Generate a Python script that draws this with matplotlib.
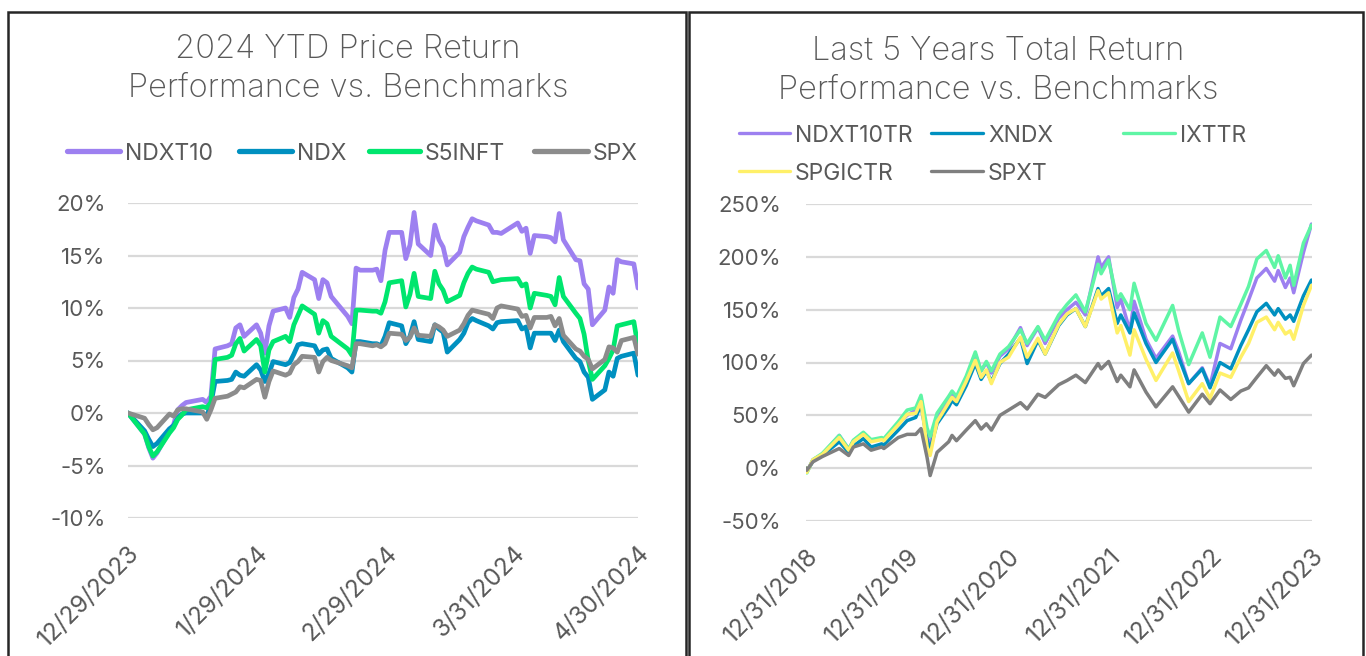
import matplotlib
matplotlib.use('Agg')
import matplotlib.pyplot as plt
import pandas as pd
from matplotlib.patches import Rectangle
from matplotlib.lines import Line2D
from matplotlib.ticker import FuncFormatter

plt.rcParams['font.family'] = ['Inter', 'DejaVu Sans']

# ---------------- Left chart data (2024 YTD price return, %) ----------------
left_names = ['NDXT10', 'NDX', 'S5INFT', 'SPX']
left_colors = ['#9d80f0', '#0090c0', '#00e66e', '#8c8c8c']
left_holidays = ['2024-01-01', '2024-01-15', '2024-02-19', '2024-03-29']
ndxt10 = [0.0,
          -2.0, -3.3, -4.3, -3.8, -1.7, -1.1, 0.3, 0.7, 1.0, 1.3, 1.0, 1.6, 6.1, 6.4, 6.6, 8.1, 8.4, 7.3, 8.4, 7.6, 5.7,
          8.3, 9.7, 10.0, 9.1, 11.0, 11.8, 13.4, 12.7, 10.9, 12.7, 12.4, 11.1, 9.2, 8.5, 13.8, 13.6, 13.6, 13.7, 12.6, 15.5,
          17.2, 17.2, 14.7, 16.0, 19.1, 16.1, 15.0, 17.9, 16.5, 15.8, 14.1, 15.3, 16.8, 17.7, 18.5, 18.3, 17.9, 17.2, 17.2, 17.1,
          18.1, 17.3, 17.6, 15.2, 16.9, 16.8, 16.7, 16.3, 19.0, 16.5, 14.6, 14.5, 12.3, 11.8, 8.4, 9.8, 12.0, 11.4, 14.6, 14.4, 14.2, 11.9]
ndx = [0.0,
       -1.7, -2.5, -3.2, -2.9, -1.5, -1.2, -0.5, -0.1, 0.0, 0.0, -0.3, 0.9, 3.0, 3.1, 3.2, 3.9, 3.6, 3.5, 4.6, 4.1, 3.0,
       3.8, 4.9, 4.6, 4.8, 5.6, 6.5, 6.6, 6.4, 5.6, 6.0, 6.1, 5.2, 4.3, 3.9, 6.8, 6.8, 6.6, 6.6, 6.4, 7.3,
       8.6, 8.3, 6.6, 7.3, 8.7, 7.0, 6.8, 8.4, 8.0, 7.7, 5.8, 7.0, 7.6, 8.6, 9.0, 8.8, 8.3, 8.0, 8.6, 8.7,
       8.8, 8.0, 8.2, 6.2, 7.6, 7.6, 7.6, 6.9, 7.9, 6.8, 5.2, 4.9, 3.9, 3.4, 1.3, 2.2, 3.9, 3.5, 5.2, 5.4, 5.7, 3.6]
s5inft = [0.0,
          -2.0, -3.2, -4.1, -3.7, -1.9, -1.4, -0.6, -0.2, 0.3, 0.6, 0.5, 1.0, 5.1, 5.3, 5.5, 6.6, 7.1, 5.9, 7.0, 6.4, 3.9,
          6.0, 6.8, 7.3, 6.8, 8.4, 9.3, 10.2, 9.4, 7.6, 8.8, 8.5, 7.3, 6.1, 5.5, 9.8, 9.8, 9.7, 9.7, 9.5, 10.6,
          12.4, 12.6, 10.1, 11.3, 13.3, 11.1, 10.9, 13.5, 12.3, 11.7, 10.6, 11.2, 12.4, 13.3, 13.9, 13.7, 13.4, 12.5, 12.6, 12.7,
          12.8, 12.1, 12.3, 10.0, 11.4, 11.2, 11.1, 10.3, 12.9, 11.1, 9.5, 9.0, 7.5, 5.0, 3.2, 4.5, 5.2, 6.0, 8.3, 8.4, 8.7, 6.3]
spx = [0.0,
       -0.5, -1.1, -1.6, -1.4, -0.1, -0.3, 0.3, 0.4, 0.4, 0.1, -0.6, 0.3, 1.4, 1.6, 1.8, 2.0, 2.5, 2.4, 3.2, 3.1, 1.5,
       3.0, 4.0, 3.6, 3.8, 4.6, 4.9, 5.4, 5.3, 3.9, 4.9, 5.3, 5.0, 4.5, 4.3, 6.6, 6.6, 6.4, 6.5, 6.3, 6.6,
       7.6, 7.5, 6.9, 7.2, 8.1, 7.4, 7.3, 8.4, 8.2, 7.9, 7.3, 7.9, 8.5, 9.3, 9.8, 9.7, 9.4, 9.0, 10.0, 10.2,
       9.9, 9.2, 9.3, 8.1, 9.1, 9.1, 9.2, 8.3, 9.0, 7.4, 6.1, 5.9, 5.4, 5.1, 4.2, 5.1, 6.3, 6.2, 5.8, 6.9, 7.2, 5.6]
left_ticks = ['2023-12-29', '2024-01-29', '2024-02-29', '2024-03-31', '2024-04-30']
left_ticklabels = ['12/29/2023', '1/29/2024', '2/29/2024', '3/31/2024', '4/30/2024']
left_yticks = [-10, -5, 0, 5, 10, 15, 20]

# ---------------- Right chart data (5y total return, %) ----------------
right_names = ['NDXT10TR', 'XNDX', 'IXTTR', 'SPGICTR', 'SPXT']
right_colors = ['#9d80f0', '#0090c0', '#5ff5a5', '#fff068', '#7f7f7f']
right_dates = ['2018-12-31', '2019-01-03', '2019-01-25', '2019-02-28', '2019-04-30', '2019-06-03',
               '2019-06-20', '2019-07-26', '2019-08-23', '2019-09-30', '2019-10-08', '2019-11-29',
               '2019-12-31', '2020-01-31',
               '2020-02-19', '2020-03-12', '2020-03-23', '2020-04-17', '2020-05-29', '2020-06-10',
               '2020-06-26', '2020-07-31', '2020-09-02', '2020-09-23', '2020-10-12', '2020-10-30',
               '2020-11-30', '2020-12-31', '2021-02-12', '2021-03-08', '2021-04-16', '2021-05-12',
               '2021-06-30', '2021-07-30', '2021-08-31', '2021-10-04', '2021-11-19', '2021-11-30',
               '2021-12-27', '2022-01-27', '2022-02-09', '2022-03-14', '2022-03-29', '2022-05-11',
               '2022-06-16', '2022-08-15', '2022-09-06', '2022-10-12', '2022-11-30', '2022-12-28',
               '2023-02-02', '2023-03-13', '2023-04-18', '2023-05-16', '2023-06-15', '2023-07-19',
               '2023-08-18', '2023-08-31', '2023-09-26', '2023-10-13', '2023-10-26', '2023-11-30',
               '2023-12-29']
spxt = [0, -2, 6, 11, 18.6, 12, 20, 23, 17, 20, 18.6, 29, 32, 32, 37.5, 10, -7, 15, 25, 31, 26, 36, 45, 37, 42, 36, 50,
        55, 62, 56, 70, 67, 79, 83, 88, 81, 99, 94, 101, 82, 88, 77, 93, 72, 58, 77, 68, 53, 70, 61, 74, 65,
        73, 76, 86, 97, 88, 93, 85, 86, 78, 99, 107]
ixttr = [0, -4.5, 8, 14, 31, 18, 26.5, 34, 27, 29, 28, 44, 55, 57, 69, 38, 30, 52, 68, 73, 68, 87, 110, 92, 101, 92, 108,
         115, 131, 118, 134, 121, 145, 155, 164, 148, 193, 184, 197, 159, 165, 150, 175, 137, 121, 154, 130, 98,
         128, 105, 143, 134, 155, 172, 198, 206, 190, 201, 180, 192, 173, 213, 230]
ndxt10tr = [0, -3.5, 8, 13, 31, 18, 26, 33, 26, 28, 27, 42, 50, 55, 66, 30, 22, 47, 64, 70, 66, 85, 108, 92, 100, 90, 106,
            113, 133, 116, 133, 118, 142, 150, 157, 145, 200, 190, 200, 152, 160, 130, 158, 122, 104, 125, 110, 80,
            95, 78, 118, 113, 140, 159, 180, 189, 177, 187, 171, 180, 166, 204, 231]
xndx = [0, -3.5, 7, 12, 25, 15, 21, 28, 20, 23, 22, 36, 45, 48, 60, 26, 18, 42, 58, 64, 60, 78, 99, 84, 92, 82, 99,
        108, 123, 99, 121, 108, 135, 145, 151, 134, 170, 163, 170, 137, 145, 128, 147, 118, 100, 122, 105, 80,
        94, 76, 100, 94, 116, 131, 148, 156, 145, 151, 141, 145, 139, 163, 178]
spgictr = [0, -4, 8, 13, 29, 17, 25, 32, 25, 27, 26, 41, 51, 52, 63, 20, 12, 44, 62, 67, 63, 82, 102, 86, 93, 80, 100,
           105, 124, 105, 123, 108, 136, 146, 151, 134, 168, 160, 166, 128, 135, 107, 131, 103, 83, 109, 92, 63,
           80, 66, 90, 86, 105, 118, 138, 143, 131, 138, 127, 130, 122, 154, 173]
right_ticks = ['2018-12-31', '2019-12-31', '2020-12-31', '2021-12-31', '2022-12-31', '2023-12-31']
right_ticklabels = ['12/31/2018', '12/31/2019', '12/31/2020', '12/31/2021', '12/31/2022', '12/31/2023']
right_yticks = [-50, 0, 50, 100, 150, 200, 250]

TXT = '#595959'
W, H = 1366, 656


def fx(px):
    return px / W


def fy(py):
    return 1 - py / H


fig = plt.figure(figsize=(13.66, 6.56), dpi=100)

# panel borders
for x0, x1 in [(8, 686), (689, 1363)]:
    fig.add_artist(Rectangle((fx(x0), -0.05), fx(x1) - fx(x0), fy(12) + 0.05,
                             transform=fig.transFigure, fill=False, lw=1.8, ec='#262626'))

# titles
fig.text(fx(348), fy(69), '2024 YTD Price Return\nPerformance vs. Benchmarks', ha='center', va='center',
         fontsize=23.5, color=TXT, linespacing=1.35, fontweight='light')
fig.text(fx(998), fy(71), 'Last 5 Years Total Return\nPerformance vs. Benchmarks', ha='center', va='center',
         fontsize=23.5, color=TXT, linespacing=1.35, fontweight='light')


def pct(v, _):
    return f'{v:.0f}%'


def style_axes(ax, yticks, ylabel_pad):
    ax.set_yticks(yticks)
    ax.set_ylim(yticks[0], yticks[-1])
    ax.yaxis.set_major_formatter(FuncFormatter(pct))
    ax.grid(axis='y', color='#d9d9d9', lw=1.6)
    ax.grid(axis='x', visible=False)
    ax.set_axisbelow(True)
    for s in ax.spines.values():
        s.set_visible(False)
    ax.tick_params(axis='both', length=0, labelcolor=TXT)
    ax.tick_params(axis='y', pad=ylabel_pad, labelsize=16)
    ax.tick_params(axis='x', pad=17, labelsize=17.5)


# ---------------- Left axes ----------------
ax1 = fig.add_axes([fx(128), fy(518), fx(638) - fx(128), fy(203) - fy(518)])
ldates = pd.bdate_range('2023-12-29', '2024-04-30')
ldates = ldates[~ldates.isin(pd.to_datetime(left_holidays))]
for vals, c in zip([ndxt10, ndx, s5inft, spx], left_colors):
    ax1.plot(ldates, vals, color=c, lw=3.4, solid_joinstyle='round', solid_capstyle='round')
ax1.set_xlim(pd.Timestamp(left_ticks[0]), pd.Timestamp(left_ticks[-1]))
ax1.set_xticks(pd.to_datetime(left_ticks))
ax1.set_xticklabels(left_ticklabels, rotation=45, ha='right', va='top', rotation_mode='anchor')
style_axes(ax1, left_yticks, 16)

# ---------------- Right axes ----------------
ax2 = fig.add_axes([fx(806), fy(521), fx(1312) - fx(806), fy(204) - fy(521)])
rdates = pd.to_datetime(right_dates)
for vals, c in zip([ndxt10tr, xndx, ixttr, spgictr, spxt], right_colors):
    ax2.plot(rdates, vals, color=c, lw=2.5, solid_joinstyle='round', solid_capstyle='round')
ax2.set_xlim(pd.Timestamp(right_ticks[0]), pd.Timestamp(right_ticks[-1]))
ax2.set_xticks(pd.to_datetime(right_ticks))
ax2.set_xticklabels(right_ticklabels, rotation=45, ha='right', va='top', rotation_mode='anchor')
style_axes(ax2, right_yticks, 18)


# ---------------- Legends (drawn manually to match layout) ----------------
def legend_item(x0, x1, y, label, color, lw):
    fig.add_artist(Line2D([fx(x0), fx(x1)], [fy(y), fy(y)], transform=fig.transFigure,
                          color=color, lw=lw, solid_capstyle='round'))
    fig.text(fx(x1 + 5), fy(y), label, ha='left', va='center_baseline', fontsize=16.5, color=TXT)


left_leg_x = [(67, 120), (239, 292), (369, 420), (534, 588)]
for (x0, x1), name, c in zip(left_leg_x, left_names, left_colors):
    legend_item(x0, x1, 151, name, c, 3.8)

right_leg_pos = [(739, 790, 133), (931, 983, 133), (1123, 1175, 133), (739, 790, 171), (931, 983, 171)]
for (x0, x1, y), name, c in zip(right_leg_pos, right_names, right_colors):
    legend_item(x0, x1, y, name, c, 2.4)

fig.savefig('out.png', dpi=100)
